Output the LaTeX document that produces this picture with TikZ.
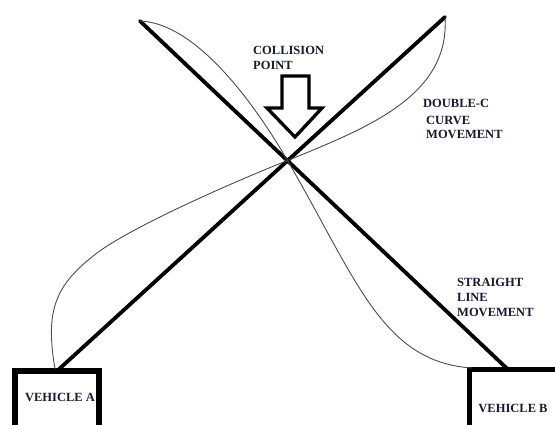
\documentclass[tikz,border=0pt]{standalone}
\usepackage{fontspec}
\setmainfont{Liberation Serif}
\definecolor{txtcol}{RGB}{22,26,50}
\begin{document}
\begin{tikzpicture}[x=1pt,y=-1pt,
  thickline/.style={line width=3.8pt, line cap=round},
  thinline/.style={line width=0.9pt, black!70},
  vehbox/.style={draw, line width=5.5pt, inner sep=0pt, outer sep=0pt, anchor=north west},
  lbl/.style={font=\bfseries\fontsize{12.5}{15}\selectfont, text=txtcol, inner sep=0pt, anchor=base west},
  vlbl/.style={font=\bfseries\fontsize{12.5}{15}\selectfont, text=txtcol, inner sep=0pt, anchor=base},
  hollowarrow/.style={draw, line width=3.3pt, line join=miter, fill=white}
]
\useasboundingbox (0,0) rectangle (555,424);
% vehicle boxes
\node[vehbox, minimum width=84pt, minimum height=80pt] (va) at (15,371) {};
\node[vehbox, minimum width=90pt, minimum height=80pt] (vb) at (469.5,369.5) {};
\node[vlbl] (vatext) at (60,401) {VEHICLE A};
\node[vlbl] (vbtext) at (513,412) {VEHICLE B};
% end points
\coordinate (astart) at (55,369);
\coordinate (atop) at (445,17);
\coordinate (btop) at (140,21);
\coordinate (bend) at (508,369.5);
\coordinate (bcurveend) at (472,368);
\coordinate (cross) at (287.5,160.5);
\coordinate (abend) at (97,253);
% straight line movements
\draw[thickline] (va.north) -- (atop);
\draw[thickline] (btop) -- (bend);
% double-C curve movements
\draw[thinline] (astart) .. controls (45,310) and (55,285) .. (abend)
  .. controls (129,229) and (217.5,188.5) .. (cross)
  .. controls (370,127) and (450,95) .. (atop);
\draw[thinline] (btop) .. controls (195,23) and (252.7,100.5) .. (cross)
  .. controls (357,280) and (382,362) .. (bcurveend);
% collision arrow
\draw[hollowarrow] (282,76) -- (309,76) -- (309,108) -- (322,108) -- (295,137) -- (267,108) -- (282,108) -- cycle;
% labels
\node[lbl] (col1) at (253,54) {COLLISION};
\node[lbl] (col2) at (253,69) {POINT};
\node[lbl] (dc1) at (423,107) {DOUBLE-C};
\node[lbl] (dc2) at (426,124.5) {CURVE};
\node[lbl] (dc3) at (426,138.5) {MOVEMENT};
\node[lbl] (sl1) at (457,286) {STRAIGHT};
\node[lbl] (sl2) at (457,301) {LINE};
\node[lbl] (sl3) at (457,316) {MOVEMENT};
\end{tikzpicture}
\end{document}
